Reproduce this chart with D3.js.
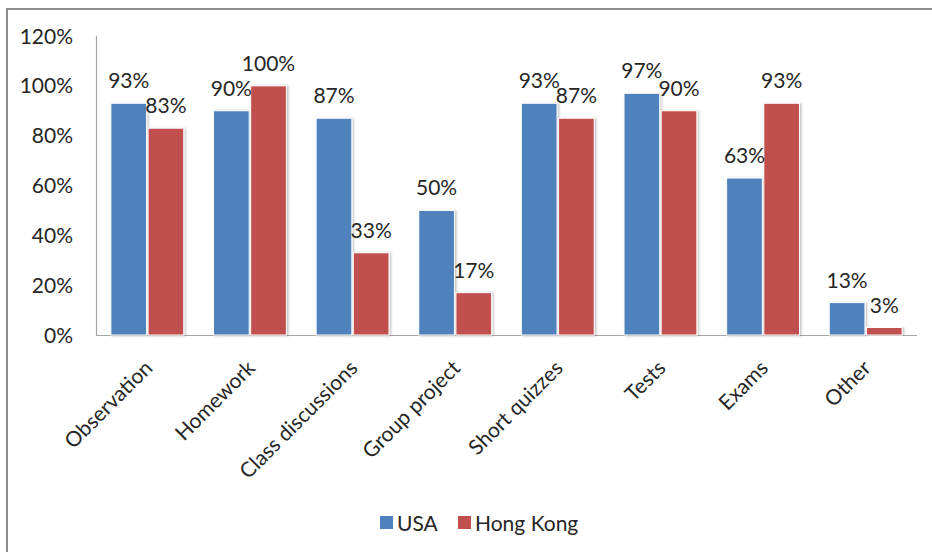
<!DOCTYPE html>
<html>
<head>
<meta charset="utf-8">
<script src="https://cdn.jsdelivr.net/npm/d3@7"></script>
<style>
  html, body { margin: 0; padding: 0; background: #fff; }
  svg { display: block; }
  text { font-family: Lato, "Open Sans", sans-serif; fill: #262626; }
</style>
</head>
<body>
<svg id="chart" width="932" height="552"></svg>
<script>
// Assessment methods used, share of respondents
const categories = ["Observation", "Homework", "Class discussions", "Group project",
                    "Short quizzes", "Tests", "Exams", "Other"];
const usaValues = [93, 90, 87, 50, 93, 97, 63, 13];
const hongKongValues = [83, 100, 33, 17, 87, 90, 93, 3];
const seriesNames = ["USA", "Hong Kong"];
const seriesColors = ["#4F81BD", "#C0504D"];
const yTicks = [0, 20, 40, 60, 80, 100, 120];

const FONT = "21px";
const svg = d3.select("#chart");

// outer frame
svg.append("rect")
  .attr("x", 7).attr("y", 9)
  .attr("width", 940).attr("height", 560)
  .attr("fill", "none")
  .attr("stroke", "#8c8c8c")
  .attr("stroke-width", 2);

const plot = { left: 96, right: 917, top: 36, bottom: 335 };

const x = d3.scaleBand()
  .domain(categories)
  .range([plot.left, plot.right])
  .paddingInner(0.29)
  .paddingOuter(0.145);

const xSeries = d3.scaleBand()
  .domain(seriesNames)
  .range([0, x.bandwidth()])
  .paddingInner(0.04);

const y = d3.scaleLinear().domain([0, 120]).range([plot.bottom, plot.top]);

// shadow for bars
const defs = svg.append("defs");
const f = defs.append("filter").attr("id", "shadow")
  .attr("x", "-20%").attr("y", "-5%").attr("width", "140%").attr("height", "110%");
f.append("feDropShadow").attr("dx", 1.5).attr("dy", 0.5)
  .attr("stdDeviation", 1).attr("flood-color", "#000").attr("flood-opacity", 0.25);

// y axis labels
svg.append("g").selectAll("text")
  .data(yTicks).join("text")
  .attr("x", 73)
  .attr("y", d => y(d))
  .attr("dy", "0.36em")
  .attr("text-anchor", "end")
  .style("font-size", FONT)
  .text(d => d + "%");

// axis lines
svg.append("line")
  .attr("x1", plot.left + 0.5).attr("x2", plot.left + 0.5)
  .attr("y1", plot.top).attr("y2", plot.bottom)
  .attr("stroke", "#a6a6a6").attr("stroke-width", 1.2);
svg.append("line")
  .attr("x1", plot.left).attr("x2", plot.right)
  .attr("y1", plot.bottom + 0.5).attr("y2", plot.bottom + 0.5)
  .attr("stroke", "#a6a6a6").attr("stroke-width", 1.2);

const rows = categories.map((c, i) => ({
  cat: c,
  vals: [
    { s: seriesNames[0], v: usaValues[i], color: seriesColors[0] },
    { s: seriesNames[1], v: hongKongValues[i], color: seriesColors[1] }
  ]
}));

const groups = svg.append("g").selectAll("g")
  .data(rows).join("g")
  .attr("transform", d => `translate(${x(d.cat)},0)`);

groups.selectAll("rect")
  .data(d => d.vals).join("rect")
  .attr("x", d => xSeries(d.s))
  .attr("y", d => y(d.v))
  .attr("width", xSeries.bandwidth())
  .attr("height", d => y(0) - y(d.v))
  .attr("fill", d => d.color)
  .attr("stroke", "#ffffff")
  .attr("stroke-width", 1)
  .attr("filter", "url(#shadow)");

groups.selectAll("text.val")
  .data(d => d.vals).join("text")
  .attr("class", "val")
  .attr("x", d => xSeries(d.s) + xSeries.bandwidth() / 2)
  .attr("y", d => y(d.v) - 15)
  .attr("text-anchor", "middle")
  .style("font-size", FONT)
  .text(d => d.v + "%");

// category labels, rotated
svg.append("g").selectAll("text")
  .data(categories).join("text")
  .attr("text-anchor", "end")
  .attr("transform", d => `translate(${x(d) + x.bandwidth() / 2 - 4},${plot.bottom + 24}) rotate(-45)`)
  .attr("dy", "0.7em")
  .style("font-size", FONT)
  .text(d => d);

// legend
const legend = svg.append("g").attr("transform", "translate(380,516)");
const legendX = [0, 78];
seriesNames.forEach((name, i) => {
  const g = legend.append("g").attr("transform", `translate(${legendX[i]},0)`);
  g.append("rect").attr("width", 13).attr("height", 13).attr("fill", seriesColors[i]);
  g.append("text").attr("x", 17).attr("y", 7).attr("dy", "0.36em")
    .style("font-size", FONT).text(name);
});
</script>
</body>
</html>
